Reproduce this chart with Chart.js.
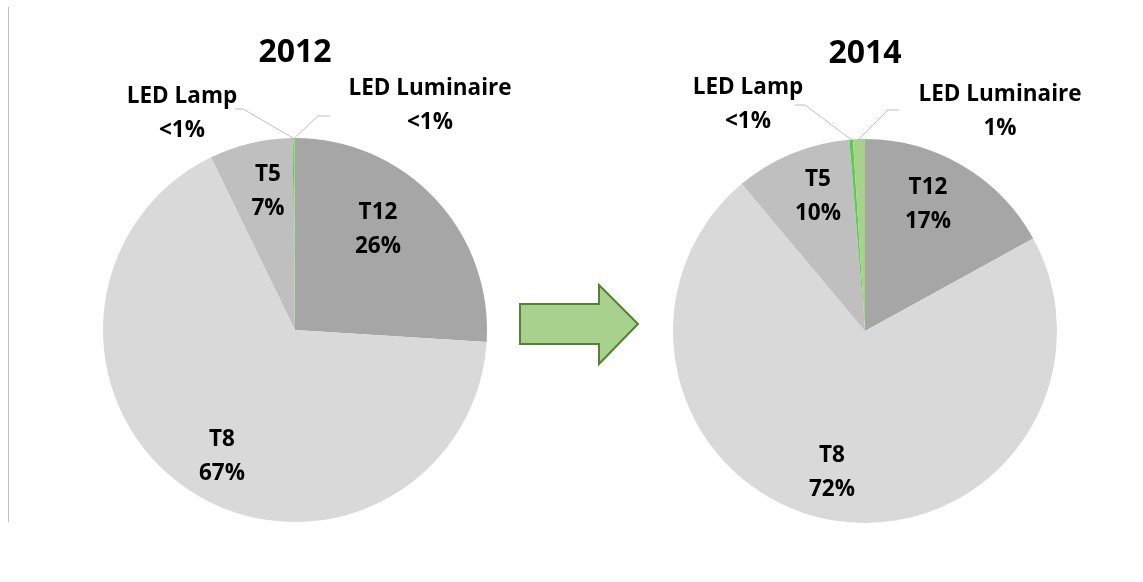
<!DOCTYPE html>
<html>
<head>
<meta charset="utf-8">
<script src="https://cdn.jsdelivr.net/npm/chart.js@4/dist/chart.umd.min.js"></script>
<style>
  html, body { margin: 0; padding: 0; background: #fff; overflow: hidden; }
  #wrap { position: relative; width: 1143px; height: 582px; }
  #c2012 { position: absolute; left: 0; top: 0; }
  #c2014 { position: absolute; left: 580px; top: 0; }
  #deco { position: absolute; left: 0; top: 0; pointer-events: none; }
</style>
</head>
<body>
<div id="wrap">
  <canvas id="c2012" width="590" height="582"></canvas>
  <canvas id="c2014" width="570" height="582"></canvas>
  <svg id="deco" width="1143" height="582">
    <line x1="8.5" y1="7" x2="8.5" y2="522" stroke="#bfbfbf" stroke-width="1"/>
    <polygon points="520,304 599,304 599,285 638,324 599,364 599,344 520,344"
             fill="#a9d18e" stroke="#548235" stroke-width="2" stroke-linejoin="miter"/>
  </svg>
</div>
<script>
/* lamp types share of installed base */
const categories = ['T12', 'T8', 'T5', 'LED Lamp', 'LED Luminaire'];
const share2012 = [26, 66.8, 7, 0.1, 0.1];
const share2014 = [17, 71.9, 9.8, 0.3, 1.0];
const pct2012 = ['26%', '67%', '7%', '<1%', '<1%'];
const pct2014 = ['17%', '72%', '10%', '<1%', '1%'];

const sliceColors = ['#a6a6a6', '#d9d9d9', '#bfbfbf', '#5ccc4c', '#a9d18e'];

// label block centres, relative to pie centre
const place2012 = [[83, -100], [-73, 127], [-27, -138], [-113, -216], [135, -224]];
const place2014 = [[63, -126], [-33, 142], [-47, -134], [-117, -226], [135, -219]];
// leader lines for the small slices : [start, elbow]
const lead2012 = [null, null, null, [[-60, -221], [-52, -221]], [[35, -214], [23, -214]]];
const lead2014 = [null, null, null, [[-70, -226], [-60, -226]], [[34, -221], [23, -221]]];

const FONT = '"Open Sans", "Liberation Sans", sans-serif';

const sliceLabels = {
  id: 'sliceLabels',
  afterDraw(chart, args, opts) {
    const ctx = chart.ctx;
    const arcs = chart.getDatasetMeta(0).data;
    const cx = arcs[0].x, cy = arcs[0].y;
    ctx.save();
    ctx.textAlign = 'center';
    ctx.textBaseline = 'middle';
    ctx.fillStyle = '#000';

    ctx.font = 'bold 32px ' + FONT;
    ctx.fillText(opts.year, cx, cy - 277);

    arcs.forEach(function(arc, i) {
      const lead = opts.lead[i];
      if (lead) {
        const mid = (arc.startAngle + arc.endAngle) / 2;
        ctx.strokeStyle = '#bfbfbf';
        ctx.lineWidth = 1;
        ctx.beginPath();
        ctx.moveTo(cx + lead[0][0], cy + lead[0][1]);
        ctx.lineTo(cx + lead[1][0], cy + lead[1][1]);
        ctx.lineTo(cx + Math.cos(mid) * arc.outerRadius, cy + Math.sin(mid) * arc.outerRadius);
        ctx.stroke();
      }
      const p = opts.place[i];
      ctx.font = 'bold 22.5px ' + FONT;
      ctx.fillText(categories[i], cx + p[0], cy + p[1] - 17);
      ctx.fillText(opts.pct[i], cx + p[0], cy + p[1] + 17);
    });
    ctx.restore();
  }
};

function makePie(id, year, values, pct, place, lead, centreY) {
  return new Chart(document.getElementById(id), {
    type: 'pie',
    data: {
      labels: categories,
      datasets: [{
        data: values,
        backgroundColor: sliceColors,
        borderWidth: 0,
        hoverOffset: 0
      }]
    },
    options: {
      responsive: false,
      animation: false,
      layout: { padding: { top: centreY - 192, bottom: 582 - centreY - 192 } },
      plugins: {
        legend: { display: false },
        tooltip: { enabled: false },
        sliceLabels: { year: year, pct: pct, place: place, lead: lead }
      }
    },
    plugins: [sliceLabels]
  });
}

makePie('c2012', '2012', share2012, pct2012, place2012, lead2012, 330);
makePie('c2014', '2014', share2014, pct2014, place2014, lead2014, 331);
</script>
</body>
</html>
